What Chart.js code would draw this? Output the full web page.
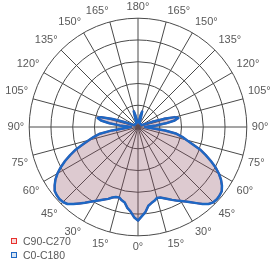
<!DOCTYPE html>
<html lang="es">
<head>
<meta charset="utf-8">
<title>Curva fotométrica</title>
<script src="https://cdn.jsdelivr.net/npm/chart.js@4.4.0/dist/chart.umd.min.js"></script>
<style>
  html, body { margin: 0; padding: 0; background: #ffffff; }
  #wrap { position: relative; width: 278px; height: 262px; }
  #legend {
    position: absolute; left: 11px; top: 234px;
    font-family: 'Liberation Sans', sans-serif; font-size: 10.5px; color: #595959;
  }
  .item { height: 14px; line-height: 14px; white-space: nowrap; }
  .box { display: inline-block; width: 4px; height: 4px; margin-right: 6px; vertical-align: 1px; }
</style>
</head>
<body>
<div id="wrap">
  <canvas id="graph" width="278" height="262"></canvas>
  <div id="legend">
    <div class="item"><span class="box" style="border:1px solid #e8302c;background:#f6dada;"></span>C90-C270</div>
    <div class="item"><span class="box" style="border:1px solid #1d68c4;background:#d6e4f4;"></span>C0-C180</div>
  </div>
</div>
<script>
  // gamma angles (deg from nadir), one half of the diagram
  var gammas = [0, 2.5, 5, 7.5, 10, 12.5, 15, 17.5, 20, 22.5, 25, 27.5, 30, 32.5, 35, 37.5, 40, 42.5, 45, 47.5,
    50, 52.5, 55, 57.5, 60, 62.5, 65, 67.5, 70, 72.5, 75, 77.5, 80, 82.5, 85, 87.5, 90, 92.5, 95, 97.5,
    100, 102.5, 105, 107.5, 110, 112.5, 115, 117.5, 120, 122.5, 125, 127.5, 130, 132.5, 135, 137.5, 140,
    142.5, 145, 147.5, 150, 152.5, 155, 157.5, 160, 162.5, 165, 167.5, 170, 172.5, 175, 177.5, 180];

  // relative intensity (% of outer ring), right half of the plot, gamma 0 -> 180
  var c0c180Right = [86, 82, 78.5, 73, 71, 69.5, 67.5, 68, 69.7, 71.6, 73.9, 76.2, 78.5, 81.3, 84.5, 88.2, 92.3, 96, 97.9, 98.3,
    97.9, 97, 94.2, 90.5, 85.9, 80.3, 73.9, 67.4, 60.9, 52.6, 46.2, 41.6, 36, 25, 13, 7.4, 6.5, 9.2, 16.6, 25.9,
    34.2, 37.9, 35.1, 24.9, 13.9, 7.4, 4.6, 3.7, 3.7, 3.7, 3.7, 3.7, 3.7, 3.7, 3.7, 3.7, 3.7,
    3.7, 3.7, 3.7, 3.7, 3.7, 3.7, 3.7, 4.6, 8.3, 14.8, 11.1, 6.5, 4.6, 4.6, 4.6, 4.6];
  // left half of the plot, gamma 0 -> 180
  var c0c180Left = [86, 83, 78, 75, 70.5, 69, 67, 67.5, 69, 71.5, 73.5, 76, 78.5, 81.5, 85, 88.5, 92.5, 96, 97.5, 98,
    97.5, 96.5, 93.5, 90, 85.5, 80, 74, 67.5, 61, 53, 46.5, 41.5, 35.5, 24, 12.5, 7.5, 6.5, 9.5, 17, 26.5,
    34.5, 38, 35, 24.5, 13.5, 7, 4.5, 3.7, 3.7, 3.7, 3.7, 3.7, 3.7, 3.7, 3.7, 3.7, 3.7,
    3.7, 3.7, 3.7, 3.7, 3.7, 3.7, 3.7, 4.5, 8.5, 15, 11, 6.5, 4.6, 4.6, 4.6, 4.6];
  // C90-C270 lies under the C0-C180 curve
  var c90c270Right = c0c180Right;
  var c90c270Left = c0c180Left;

  // radar order: top (180) clockwise down the right side to 0, then up the left side
  function toRadar(right, left) {
    return right.slice().reverse().concat(left.slice(1, left.length - 1));
  }
  var labels = toRadar(gammas, gammas);

  var ctx = document.getElementById('graph').getContext('2d');
  new Chart(ctx, {
    type: 'radar',
    data: {
      labels: labels,
      datasets: [
        {
          label: 'C0-C180',
          data: toRadar(c0c180Right, c0c180Left),
          borderColor: '#1d68c4',
          borderWidth: 2.5,
          fill: false,
          order: 0
        },
        {
          label: 'C90-C270',
          data: toRadar(c90c270Right, c90c270Left),
          borderColor: '#e8302c',
          backgroundColor: 'rgba(142,78,98,0.3)',
          borderWidth: 2,
          fill: true,
          order: 1
        }
      ]
    },
    options: {
      responsive: false,
      animation: false,
      layout: { padding: { top: 0, bottom: 7, left: 0, right: 1 } },
      elements: { point: { radius: 0, hoverRadius: 0 }, line: { tension: 0, borderJoinStyle: 'round' } },
      plugins: { legend: { display: false }, tooltip: { enabled: false } },
      scales: {
        r: {
          min: 0,
          max: 100,
          ticks: { stepSize: 20, display: false },
          grid: { circular: true, color: '#4a4a4a', lineWidth: 1 },
          angleLines: {
            color: '#4a4a4a',
            lineWidth: function (c) { return labels[c.index] % 15 === 0 ? 1 : 0; }
          },
          pointLabels: {
            color: '#595959',
            padding: 5,
            font: { family: 'Liberation Sans', size: 11 },
            callback: function (label) { return label % 15 === 0 ? label + '°' : ''; }
          }
        }
      }
    }
  });
</script>
</body>
</html>
